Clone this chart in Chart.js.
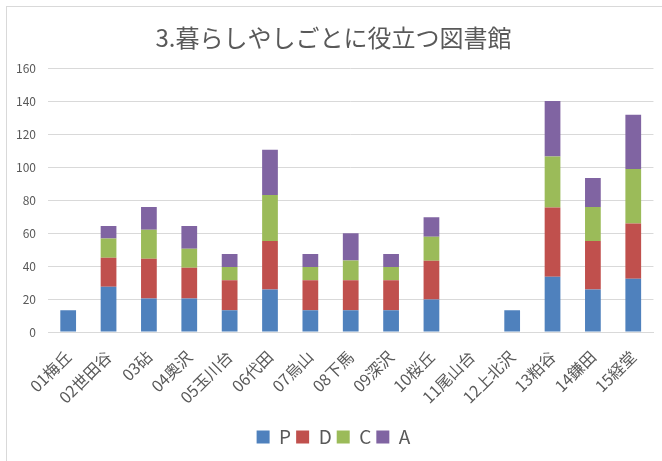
<!DOCTYPE html>
<html>
<head>
<meta charset="utf-8">
<script src="https://cdn.jsdelivr.net/npm/chart.js@4"></script>
<style>
    body { margin: 0; background: #fff; }
    #wrap { position: relative; width: 662px; height: 461px; }
    #frame {
        position: absolute; left: 6px; top: 6px; width: 700px; height: 500px;
        border-top: 1px solid #d9d9d9; border-left: 1px solid #d9d9d9;
        pointer-events: none;
    }
</style>
</head>
<body>
<div id="wrap">
    <canvas id="barChart" width="662" height="461"></canvas>
    <div id="frame"></div>
</div>
<script>
// library names (x axis)
const libraries = ["01梅丘", "02世田谷", "03砧", "04奥沢", "05玉川台", "06代田", "07烏山", "08下馬",
    "09深沢", "10桜丘", "11尾山台", "12上北沢", "13粕谷", "14鎌田", "15経堂"];

// stacked series values
const valuesP = [13.2, 27.4, 20.3, 20.3, 13.2, 25.8, 13.2, 13.2, 13.2, 19.7, 0, 13.2, 33.5, 25.8, 32.3];
const valuesD = [0, 17.6, 24.1, 18.6, 18.2, 29.4, 18.2, 18.2, 18.2, 23.5, 0, 0, 42.0, 29.4, 33.4];
const valuesC = [0, 11.6, 17.5, 11.6, 8.0, 27.8, 8.0, 12.0, 8.0, 14.6, 0, 0, 30.8, 20.5, 33.1];
const valuesA = [0, 7.7, 13.8, 13.8, 7.9, 27.5, 7.9, 16.4, 7.9, 11.8, 0, 0, 33.7, 17.6, 32.8];

const textColor = "#595959";
const gridColor = "#d9d9d9";
const fontFamily = "'Noto Sans CJK JP', 'Noto Sans', sans-serif";

const makeSet = (label, data, color) => ({
    label: label,
    data: data,
    backgroundColor: color,
    borderWidth: 0,
    barPercentage: 0.39,
    categoryPercentage: 1.0
});

const ctx = document.getElementById("barChart");

new Chart(ctx, {
    type: "bar",
    data: {
        labels: libraries,
        datasets: [
            makeSet("P", valuesP, "#4f81bd"),
            makeSet("D", valuesD, "#c0504d"),
            makeSet("C", valuesC, "#9bbb59"),
            makeSet("A", valuesA, "#8064a2")
        ]
    },
    options: {
        responsive: false,
        animation: false,
        layout: { padding: { top: 20, left: 10, right: 5, bottom: 4.5 } },
        plugins: {
            title: {
                display: true,
                text: "3.暮らしやしごとに役立つ図書館",
                color: textColor,
                font: { family: fontFamily, size: 24, weight: "normal" },
                padding: { top: 3.6, bottom: 15.6 }
            },
            legend: {
                position: "bottom",
                labels: {
                    color: textColor,
                    font: { family: fontFamily, size: 19 },
                    boxWidth: 13,
                    boxHeight: 13,
                    padding: 5
                }
            },
            tooltip: { enabled: false }
        },
        scales: {
            x: {
                stacked: true,
                grid: { display: false, drawTicks: false },
                border: { color: gridColor },
                ticks: {
                    color: textColor,
                    font: { family: fontFamily, size: 16 },
                    autoSkip: false,
                    minRotation: 45,
                    maxRotation: 45,
                    padding: 15
                },
                afterFit: (scale) => { scale.height = 90.5; }
            },
            y: {
                stacked: true,
                min: 0,
                max: 160,
                grid: { color: gridColor, drawTicks: false },
                border: { display: false },
                ticks: {
                    stepSize: 20,
                    color: textColor,
                    font: { family: fontFamily, size: 12 },
                    padding: 12
                },
                afterFit: (scale) => { scale.width = 38; }
            }
        }
    }
});
</script>
</body>
</html>
